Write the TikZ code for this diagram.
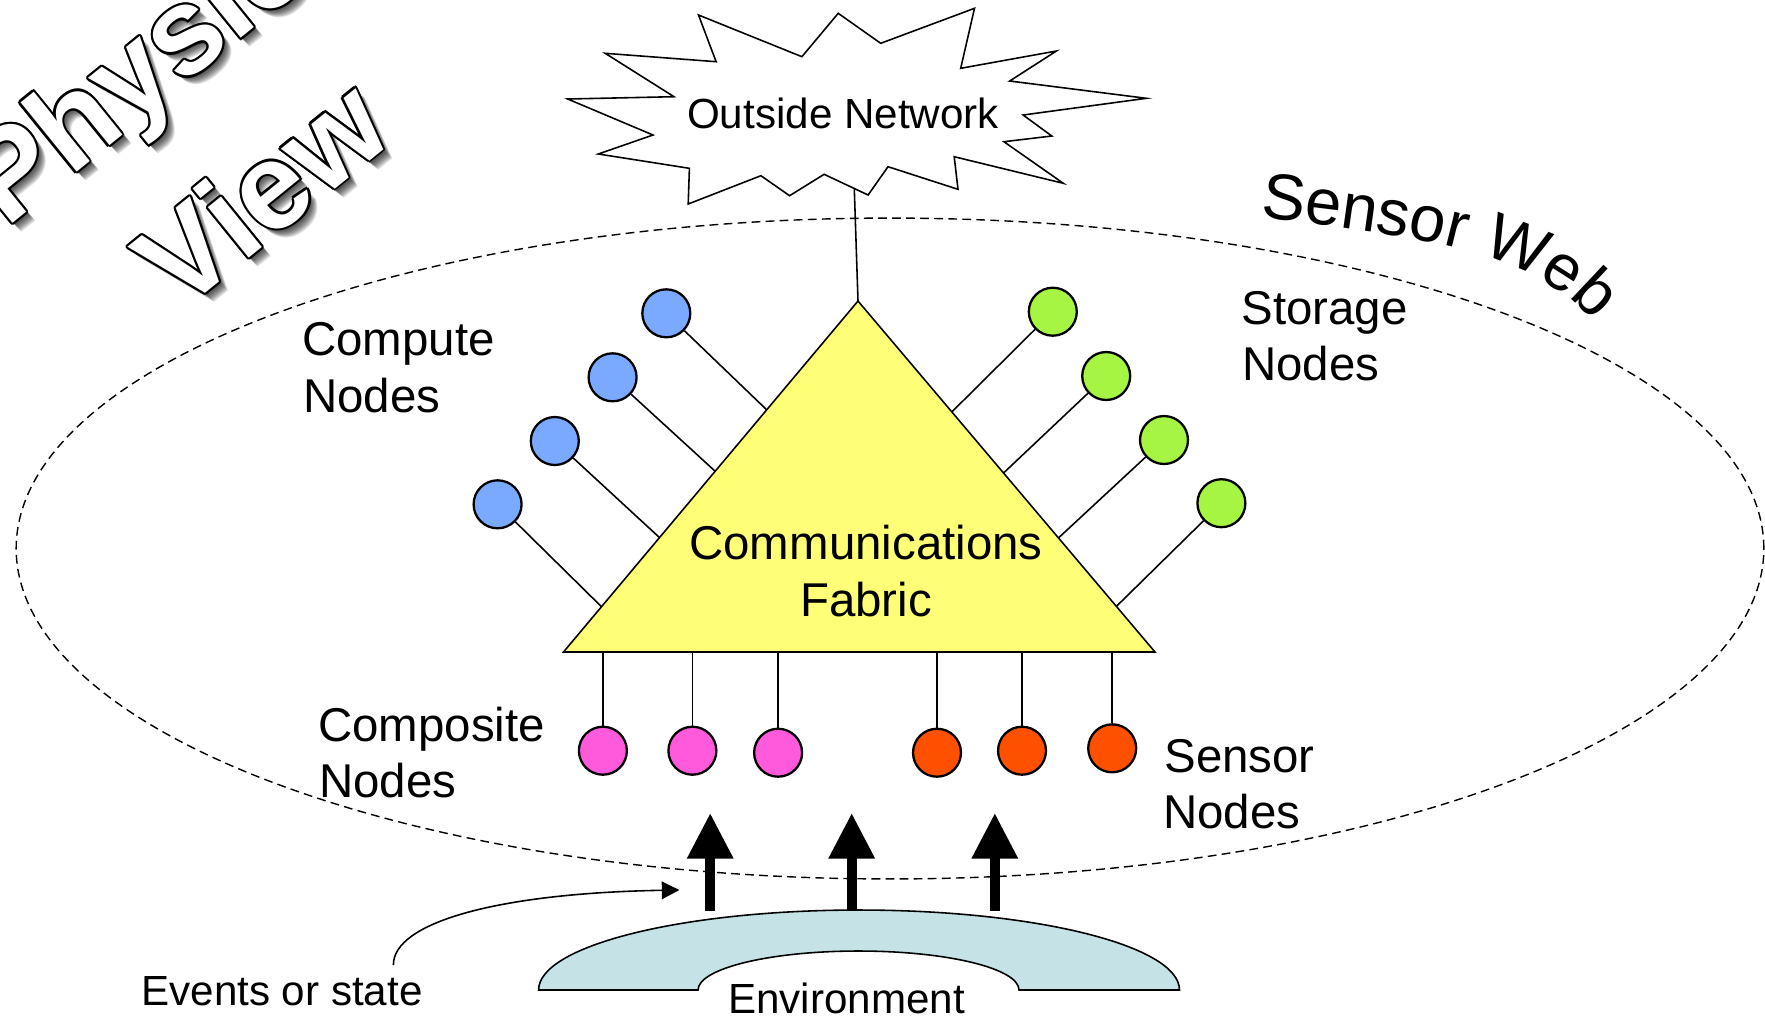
\documentclass[tikz,border=0pt]{standalone}
\usepackage{fontspec}
\setmainfont{Liberation Sans}
\usetikzlibrary{arrows.meta,calc,decorations.text,backgrounds}

\definecolor{computeblue}{RGB}{122,170,255}
\definecolor{storagegreen}{RGB}{166,245,66}
\definecolor{compositepink}{RGB}{255,90,220}
\definecolor{sensororange}{RGB}{255,80,0}
\definecolor{fabricyellow}{RGB}{255,255,119}
\definecolor{envblue}{RGB}{197,227,230}

\newcommand\lblfont{\fontsize{27}{30}\selectfont}
\newcommand\fabfont{\fontsize{27}{32.3}\selectfont}
\newcommand\smallfont{\fontsize{24}{28}\selectfont}
\newcommand\webfont{\fontsize{37}{42}\selectfont}
\newcommand\ttlfont{\bfseries\fontsize{70}{84}\selectfont}

\begin{document}
\begin{tikzpicture}[x=0.02cm,y=-0.02cm,
  nodeball/.style={circle,draw=black,line width=1.3pt,minimum size=27.3pt,inner sep=0pt},
  link/.style={line width=0.9pt},
  lbl/.style={anchor=base west,inner sep=0pt,font=\lblfont},
  smalltxt/.style={inner sep=0pt,font=\smallfont},
  ttl/.style={rotate=39,anchor=base west,inner sep=0pt,font=\ttlfont},
  bigarrow/.style={line width=5.7pt,-{Triangle[length=26pt,width=25pt]}},
  webline/.style={line width=0.8pt,dash pattern=on 5pt off 3pt}]

\useasboundingbox (0,0) rectangle (1765,1019);
\begin{pgfonlayer}{background}
  \fill[white] (0,0) rectangle (1765,1019);
\end{pgfonlayer}
\clip (0,0) rectangle (1765,1019);

% ---------- title "Physical View" ----------
\coordinate (pv1) at (6,229);
\coordinate (pv2) at (180,314);
\foreach \s in {2,...,9} {
  \node[ttl,text=black,opacity=0.13] (pvsA\s) at ($(pv1)+(\s,\s)$) {Physical};
  \node[ttl,text=black,opacity=0.13] (pvsB\s) at ($(pv2)+(\s,\s)$) {View};
}
\foreach \a in {0,30,...,330} {
  \node[ttl,text=black] (pvoA\a) at ($(pv1)+(\a:2.2)$) {Physical};
  \node[ttl,text=black] (pvoB\a) at ($(pv2)+(\a:2.2)$) {View};
}
\node[ttl,text=white] (physical) at (pv1) {Physical};
\node[ttl,text=white] (view) at (pv2) {View};

% ---------- sensor web boundary ----------
\draw[webline] (890,548.5) ellipse [x radius=17.48cm, y radius=6.61cm];
\path[decorate,decoration={text along path,text align=left,
  text={|\webfont|Sensor Web}}]
  (1260,218) .. controls (1430,236) and (1545,255) .. (1602,332);

% ---------- outside network ----------
\draw[fill=white,line width=0.9pt,line join=miter]
  (567.7,99) -- (674,96.7) -- (605.2,53.3) -- (716.1,61.7) -- (698.5,15)
  -- (801.9,56.7) -- (838.2,13.3) -- (880.7,43.3) -- (974.5,8.3)
  -- (960.7,68.3) -- (1056.4,51) -- (1009.7,81) -- (1146.3,98.3)
  -- (1023.1,115) -- (1051.8,136) -- (1003.9,141.7) -- (1063.3,183.3)
  -- (954.2,156.7) -- (958,189.3) -- (888,166.7) -- (868.1,195)
  -- (824.1,174.3) -- (789.6,195.7) -- (760.9,175.7) -- (688.2,204)
  -- (689.4,168.3) -- (598.3,154) -- (653,135) -- cycle;
\node[smalltxt,anchor=base] (outnet) at (843,128) {Outside Network};
\coordinate (netport) at (854,180);

% ---------- communications fabric ----------
\coordinate (tA) at (858,301);
\coordinate (tL) at (563.5,652);
\coordinate (tR) at (1155,652);
\draw[fill=fabricyellow,line width=0.9pt,line join=miter] (tA) -- (tL) -- (tR) -- cycle;
\node[font=\fabfont,align=center,inner sep=0pt] (fabric) at (866,571) {Communications\\Fabric};

% ---------- node balls ----------
\node[nodeball,fill=computeblue] (cp1) at (666.3,313.3) {};
\node[nodeball,fill=computeblue] (cp2) at (612.6,377.3) {};
\node[nodeball,fill=computeblue] (cp3) at (554.8,441) {};
\node[nodeball,fill=computeblue] (cp4) at (497.6,504.3) {};
\node[nodeball,fill=storagegreen] (st1) at (1052.8,311.7) {};
\node[nodeball,fill=storagegreen] (st2) at (1106.2,376) {};
\node[nodeball,fill=storagegreen] (st3) at (1164,440) {};
\node[nodeball,fill=storagegreen] (st4) at (1221.4,503.2) {};
\node[nodeball,fill=compositepink] (cm1) at (602.9,750.7) {};
\node[nodeball,fill=compositepink] (cm2) at (692.4,750.7) {};
\node[nodeball,fill=compositepink] (cm3) at (778.1,752.7) {};
\node[nodeball,fill=sensororange] (sn1) at (937,752.7) {};
\node[nodeball,fill=sensororange] (sn2) at (1022,750.7) {};
\node[nodeball,fill=sensororange] (sn3) at (1112.2,748.3) {};

\begin{pgfonlayer}{background}
  \draw[link] (netport) -- (tA);
  \foreach \c/\t in {cp1/0.69,cp2/0.515,cp3/0.326,cp4/0.129}
    \draw[link] (\c) -- ($(tL)!\t!(tA)$);
  \foreach \c/\t in {st1/0.684,st2/0.51,st3/0.325,st4/0.13}
    \draw[link] (\c) -- ($(tR)!\t!(tA)$);
  \foreach \c in {cm1,cm2,cm3,sn1,sn2,sn3} \draw[link] (\c) -- (\c |- tL);
\end{pgfonlayer}

% ---------- labels ----------
\node[lbl] (computeA) at (302,355) {Compute};
\node[lbl] (computeB) at (303,412) {Nodes};
\node[lbl] (storageA) at (1241,324) {Storage};
\node[lbl] (storageB) at (1242,380) {Nodes};
\node[lbl] (compositeA) at (318,741) {Composite};
\node[lbl] (compositeB) at (319,797) {Nodes};
\node[lbl] (sensorA) at (1164,772) {Sensor};
\node[lbl] (sensorB) at (1163,828) {Nodes};

% ---------- environment ----------
\draw[fill=envblue,line width=0.9pt]
  (538.6,990) arc[start angle=180,end angle=0,x radius=6.41cm,y radius=1.6cm]
  -- (1019,990) arc[start angle=0,end angle=180,x radius=3.21cm,y radius=0.78cm]
  -- cycle;
\node[smalltxt,anchor=base] (envlabel) at (846.5,1013) {Environment};
\node[smalltxt,anchor=base west] (events) at (141,1005) {Events or state};

\coordinate (up1s) at (710.2,911);
\coordinate (up1e) at (710.2,813);
\coordinate (up2s) at (851.7,910);
\coordinate (up2e) at (851.7,813);
\coordinate (up3s) at (994.8,911);
\coordinate (up3e) at (994.8,813);
\draw[bigarrow] (up1s) -- (up1e);
\draw[bigarrow] (up2s) -- (up2e);
\draw[bigarrow] (up3s) -- (up3e);

\coordinate (evstart) at (393.4,965);
\coordinate (evtip) at (679.4,890);
\draw[line width=0.9pt,-{Triangle[length=10pt,width=10pt]}]
  (evstart) .. controls (393,922) and (500,893) .. (evtip);
\end{tikzpicture}
\end{document}
